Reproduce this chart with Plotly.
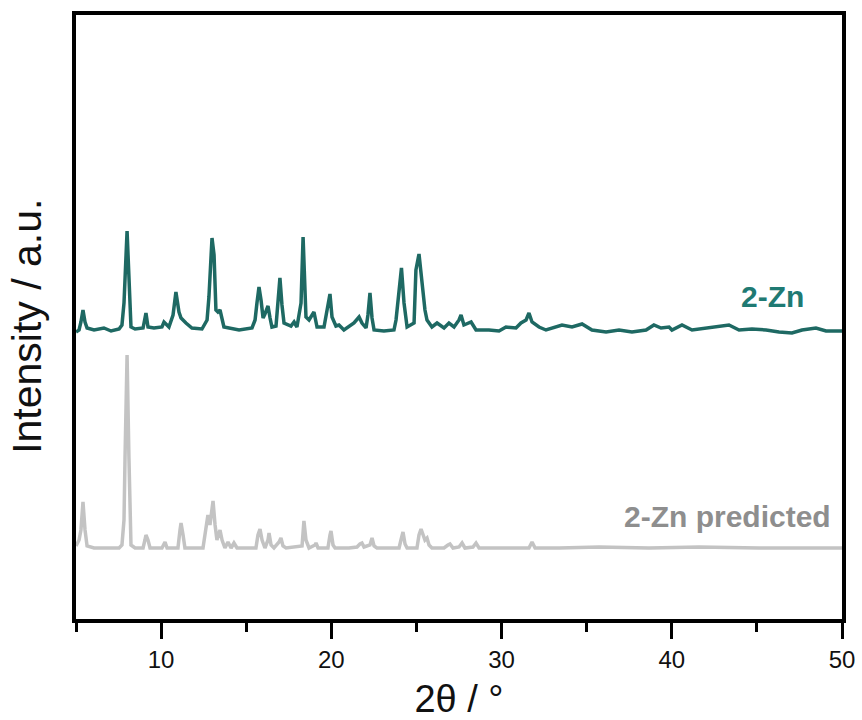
import plotly.graph_objects as go

# --- 2-Zn measured pattern (2θ in degrees, intensity in a.u. above its baseline) ---
zn_two_theta = [
    5.00, 5.18, 5.29, 5.41, 5.53, 5.65, 6.06, 6.64, 7.06, 7.53, 7.70, 7.82, 8.00, 8.11, 8.23,
    8.47, 8.94, 9.11, 9.23, 9.58, 10.05, 10.17, 10.35, 10.46, 10.70, 10.87, 11.05, 11.17, 11.46,
    11.81, 12.40, 12.70, 12.81, 12.99, 13.11, 13.22, 13.34, 13.46, 13.69, 13.99, 14.58, 15.34,
    15.52, 15.63, 15.75, 15.87, 15.99, 16.10, 16.28, 16.40, 16.51, 16.75, 16.87, 16.98, 17.10,
    17.22, 17.63, 17.81, 17.98, 18.22, 18.34, 18.45, 18.51, 18.69, 18.86, 18.98, 19.16, 19.57,
    19.75, 19.92, 20.04, 20.27, 20.45, 20.74, 21.33, 21.63, 21.80, 22.04, 22.15, 22.27, 22.39,
    22.51, 23.09, 23.68, 23.80, 23.98, 24.12, 24.27, 24.45, 24.86, 24.97, 25.15, 25.33, 25.50,
    25.62, 25.91, 26.21, 26.62, 26.91, 27.21, 27.50, 27.62, 27.79, 28.21, 28.50, 29.26, 29.85,
    30.26, 30.85, 31.14, 31.44, 31.61, 31.79, 32.20, 32.61, 32.96, 33.55, 34.14, 34.73, 35.31,
    36.14, 36.90, 37.66, 38.49, 38.95, 39.37, 39.84, 40.01, 40.60, 41.19, 42.01, 42.60, 43.36,
    43.95, 44.71, 45.54, 46.30, 47.06, 47.65, 48.47, 49.06, 50.00,
]
zn_intensity = [
    -2, 0, 8, 20, 8, 2, 0, 2, -1, 1, 5, 27, 99, 40, 3,
    1, 2, 17, 3, 2, 3, 8, 4, 3, 15, 38, 18, 12, 7,
    2, 1, 10, 33, 92, 75, 20, 18, 20, 3, 2, 0, 2,
    10, 27, 43, 30, 12, 16, 24, 12, 3, 4, 30, 52, 25,
    7, 4, 8, 3, 27, 93, 40, 13, 10, 14, 18, 3, 3,
    20, 36, 13, 4, 5, 0, 7, 13, 7, 2, 15, 37, 12,
    0, -1, 0, 10, 40, 62, 27, 3, 7, 60, 76, 43, 20,
    10, 3, 7, 2, 7, 3, 10, 15, 5, 8, 0, 0, -1,
    3, 2, 7, 10, 17, 8, 3, 0, 2, 5, 3, 6, 0,
    -2, 0, -2, 0, 5, 2, 3, 0, 5, 0, 2, 4, 5,
    0, 1, 0, -2, -3, 0, 2, -1, -1,
]

# --- 2-Zn predicted (simulated) pattern ---
pred_two_theta = [
    5.00, 5.18, 5.29, 5.41, 5.53, 5.65, 6.06, 7.53, 7.70, 7.82, 7.88, 8.00, 8.11, 8.17, 8.23,
    8.47, 8.94, 9.05, 9.11, 9.23, 9.35, 10.05, 10.23, 10.35, 10.99, 11.11, 11.17, 11.29, 11.40,
    12.46, 12.58, 12.75, 12.87, 12.99, 13.05, 13.17, 13.28, 13.46, 13.58, 13.75, 13.93, 14.11,
    14.28, 14.46, 15.57, 15.69, 15.81, 15.93, 16.10, 16.28, 16.34, 16.46, 16.63, 16.93, 17.04,
    17.16, 17.34, 18.28, 18.34, 18.39, 18.51, 18.69, 19.04, 19.10, 19.22, 19.80, 19.92, 19.98,
    20.10, 20.22, 21.04, 21.51, 21.68, 21.80, 21.92, 22.27, 22.39, 22.51, 22.68, 23.98, 24.09,
    24.21, 24.33, 24.45, 25.03, 25.15, 25.27, 25.39, 25.50, 25.62, 25.74, 25.91, 26.62, 26.85,
    26.97, 27.15, 27.50, 27.68, 27.85, 28.32, 28.50, 28.68, 31.61, 31.79, 31.97, 33.38, 35.73,
    38.66, 41.60, 45.13, 50.00,
]
pred_intensity = [
    2, 8, 18, 46, 18, 2, 0, 0, 3, 28, 90, 193, 90, 28, 3,
    0, 0, 8, 13, 8, 0, 0, 6, 0, 0, 18, 25, 13, 0,
    0, 13, 33, 23, 38, 47, 23, 8, 18, 8, 0, 6, 0,
    5, 0, 0, 13, 19, 8, 0, 8, 15, 3, 0, 6, 10,
    2, 0, 2, 23, 27, 8, 0, 3, 5, 0, 0, 13, 17,
    3, 0, 0, 1, 4, 5, 1, 3, 10, 2, 0, 0, 8,
    16, 4, 0, 0, 13, 19, 13, 8, 10, 3, 0, 0, 3,
    4, 0, 1, 5, 0, 1, 5, 0, 0, 6, 0, 0, 1,
    0, 1, 0, 0,
]

# vertical offsets used to stack the two patterns
zn_offset = 289
pred_offset = 71

teal_line = "#1e6963"
teal_text = "#1f7a73"
grey_line = "#c3c3c3"
grey_text = "#8e8e8e"
font_family = "Liberation Sans, Arial, sans-serif"

fig = go.Figure()
fig.add_trace(go.Scatter(
    x=pred_two_theta,
    y=[v + pred_offset for v in pred_intensity],
    mode="lines",
    line=dict(color=grey_line, width=3.5),
    name="2-Zn predicted",
))
fig.add_trace(go.Scatter(
    x=zn_two_theta,
    y=[v + zn_offset for v in zn_intensity],
    mode="lines",
    line=dict(color=teal_line, width=3.5),
    name="2-Zn",
))

fig.add_annotation(
    x=47.9, y=zn_offset + 34, xref="x", yref="y",
    text="<b>2-Zn</b>", showarrow=False, xanchor="right",
    font=dict(family=font_family, size=30, color=teal_text),
)
fig.add_annotation(
    x=49.45, y=pred_offset + 32, xref="x", yref="y",
    text="<b>2-Zn predicted</b>", showarrow=False, xanchor="right",
    font=dict(family=font_family, size=30, color=grey_text),
)
fig.add_annotation(
    x=-0.065, y=0.484, xref="paper", yref="paper",
    text="Intensity / a.u.", showarrow=False, textangle=-90,
    xanchor="center", yanchor="middle",
    font=dict(family=font_family, size=41, color="#111111"),
)

fig.update_layout(
    width=862,
    height=720,
    margin=dict(l=76, r=20, t=15, b=101, autoexpand=False),
    paper_bgcolor="white",
    plot_bgcolor="white",
    showlegend=False,
    font=dict(family=font_family, color="#111111"),
)
fig.update_xaxes(
    range=[5, 50],
    automargin=False,
    tickmode="array",
    tickvals=[10, 20, 30, 40, 50],
    ticktext=["10", "20", "30", "40", "50"],
    ticks="outside",
    ticklen=16,
    tickwidth=3,
    tickcolor="black",
    minor=dict(tickmode="array", tickvals=[5, 15, 25, 35, 45], ticks="outside",
               ticklen=9, tickwidth=3, tickcolor="black"),
    tickfont=dict(family=font_family, size=24, color="#111111"),
    showline=True, linecolor="black", linewidth=3.5, mirror=True,
    showgrid=False, zeroline=False,
    title=dict(text="2θ / °", font=dict(family=font_family, size=38, color="#111111"), standoff=16),
)
fig.update_yaxes(
    range=[0, 604],
    automargin=False,
    showticklabels=False,
    ticks="",
    showline=True, linecolor="black", linewidth=3.5, mirror=True,
    showgrid=False, zeroline=False,
)

fig.write_html("out.html")
